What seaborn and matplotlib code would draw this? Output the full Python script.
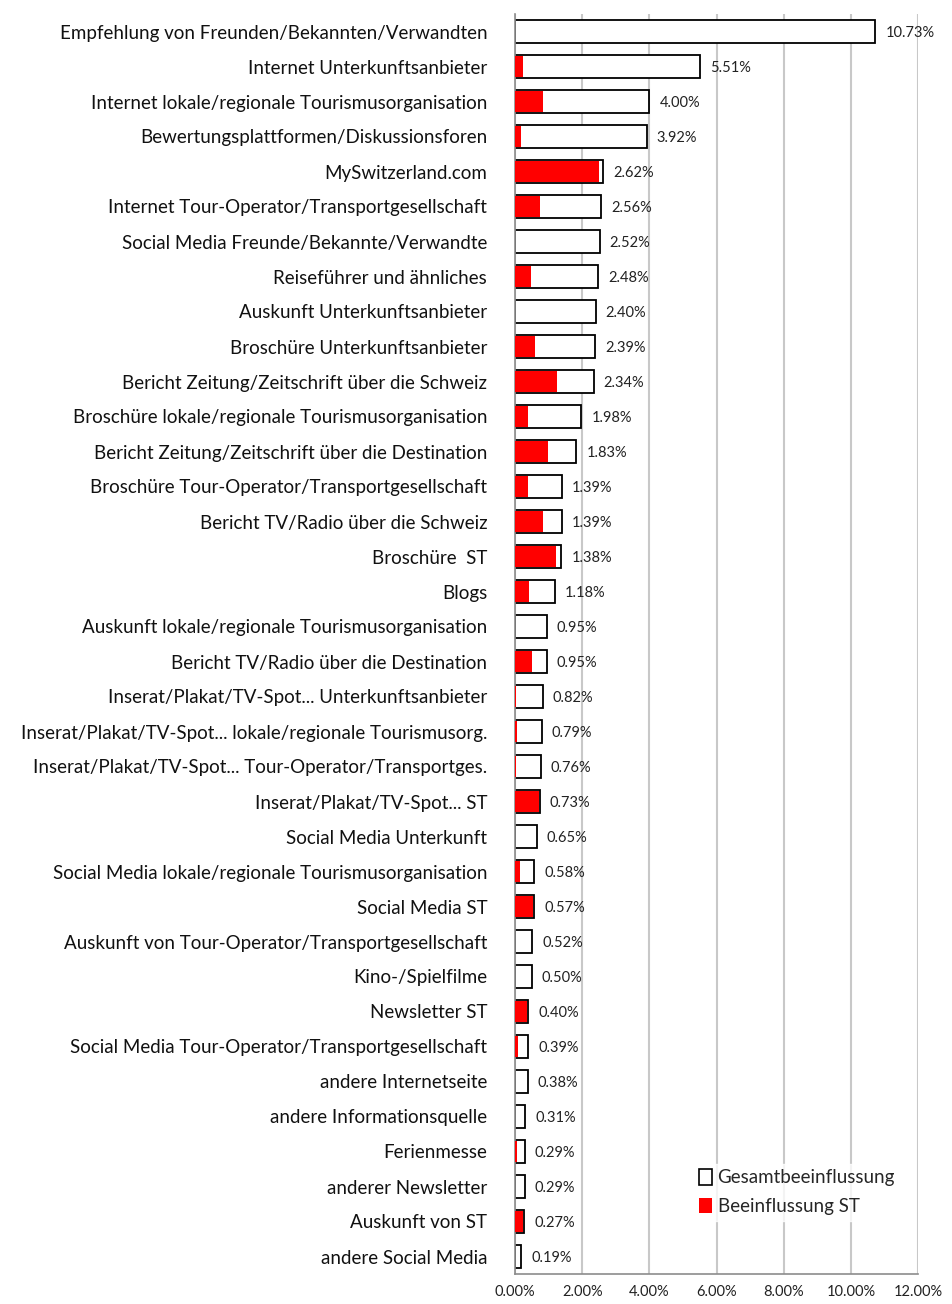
import numpy as np
import pandas as pd
import matplotlib
matplotlib.use("Agg")
import matplotlib.pyplot as plt
import seaborn as sns
from matplotlib.patches import Patch
from matplotlib.ticker import FuncFormatter, FixedLocator

categories = [
    "Empfehlung von Freunden/Bekannten/Verwandten",
    "Internet Unterkunftsanbieter",
    "Internet lokale/regionale Tourismusorganisation",
    "Bewertungsplattformen/Diskussionsforen",
    "MySwitzerland.com",
    "Internet Tour-Operator/Transportgesellschaft",
    "Social Media Freunde/Bekannte/Verwandte",
    "Reiseführer und ähnliches",
    "Auskunft Unterkunftsanbieter",
    "Broschüre Unterkunftsanbieter",
    "Bericht Zeitung/Zeitschrift über die Schweiz",
    "Broschüre lokale/regionale Tourismusorganisation",
    "Bericht Zeitung/Zeitschrift über die Destination",
    "Broschüre Tour-Operator/Transportgesellschaft",
    "Bericht TV/Radio über die Schweiz",
    "Broschüre  ST",
    "Blogs",
    "Auskunft lokale/regionale Tourismusorganisation",
    "Bericht TV/Radio über die Destination",
    "Inserat/Plakat/TV-Spot... Unterkunftsanbieter",
    "Inserat/Plakat/TV-Spot... lokale/regionale Tourismusorg.",
    "Inserat/Plakat/TV-Spot... Tour-Operator/Transportges.",
    "Inserat/Plakat/TV-Spot... ST",
    "Social Media Unterkunft",
    "Social Media lokale/regionale Tourismusorganisation",
    "Social Media ST",
    "Auskunft von Tour-Operator/Transportgesellschaft",
    "Kino-/Spielfilme",
    "Newsletter ST",
    "Social Media Tour-Operator/Transportgesellschaft",
    "andere Internetseite",
    "andere Informationsquelle",
    "Ferienmesse",
    "anderer Newsletter",
    "Auskunft von ST",
    "andere Social Media",
]

gesamt = [10.73, 5.51, 4.00, 3.92, 2.62, 2.56, 2.52, 2.48, 2.40, 2.39,
          2.34, 1.98, 1.83, 1.39, 1.39, 1.38, 1.18, 0.95, 0.95, 0.82,
          0.79, 0.76, 0.73, 0.65, 0.58, 0.57, 0.52, 0.50, 0.40, 0.39,
          0.38, 0.31, 0.29, 0.29, 0.27, 0.19]

st = [0.00, 0.25, 0.82, 0.19, 2.51, 0.75, 0.00, 0.48, 0.00, 0.59,
      1.24, 0.39, 0.97, 0.39, 0.82, 1.22, 0.43, 0.00, 0.52, 0.03,
      0.06, 0.02, 0.70, 0.00, 0.15, 0.55, 0.00, 0.00, 0.37, 0.10,
      0.00, 0.00, 0.07, 0.00, 0.25, 0.00]

xticks = [0, 2, 4, 6, 8, 10, 12]

df = pd.DataFrame({"Kategorie": categories, "Gesamt": gesamt, "ST": st})

sns.set_style("white")
plt.rcParams["font.family"] = ["Lato", "DejaVu Sans"]

fig = plt.figure(figsize=(9.52, 13.04), dpi=100)
ax = fig.add_axes([515 / 952, 30 / 1304, 403 / 952, 1260 / 1304])

sns.barplot(data=df, x="Gesamt", y="Kategorie", color="white", saturation=1,
            edgecolor="black", linewidth=1.3, width=0.66, ax=ax, zorder=2)
sns.barplot(data=df, x="ST", y="Kategorie", color="#ff0000", saturation=1,
            edgecolor="none", linewidth=0, width=0.62, ax=ax, zorder=3)

ax.set_xlim(0, 12)
ax.set_ylim(len(categories) - 0.5, -0.5)
ax.set_xticks(xticks)
ax.xaxis.set_major_formatter(FuncFormatter(lambda v, p: f"{v:.2f}%"))
ax.grid(axis="x", color="#c8c8c8", linewidth=1.5, zorder=0)
ax.set_axisbelow(True)
ax.set_xlabel("")
ax.set_ylabel("")

for s in ["top", "right"]:
    ax.spines[s].set_visible(False)
for s in ["left", "bottom"]:
    ax.spines[s].set_color("#8c8c8c")
    ax.spines[s].set_linewidth(1.2)

ax.tick_params(axis="y", which="major", length=0, pad=20, labelsize=13.5,
               labelcolor="#111111")
ax.yaxis.set_minor_locator(FixedLocator(np.arange(-0.5, len(categories), 1)))
ax.tick_params(axis="y", which="minor", length=6, color="#8c8c8c", direction="out")
ax.tick_params(axis="x", which="major", length=5, color="#8c8c8c",
               labelsize=10.5, labelcolor="#222222", pad=3)

for i, v in enumerate(gesamt):
    ax.text(v + 0.3, i + 0.05, f"{v:.2f}%", va="center", ha="left",
            fontsize=10.5, color="#222222")

handles = [Patch(facecolor="white", edgecolor="black", linewidth=1.2),
           Patch(facecolor="#ff0000", edgecolor="none")]
leg = ax.legend(handles, ["Gesamtbeeinflussung", "Beeinflussung ST"],
                loc="lower right", bbox_to_anchor=(0.98, 0.035),
                frameon=True, fontsize=13.5, handlelength=0.7, handleheight=0.9,
                handletextpad=0.3, labelspacing=0.6, borderpad=0.3)
leg.get_frame().set_facecolor("white")
leg.get_frame().set_edgecolor("white")

fig.savefig("out.png", dpi=100)
